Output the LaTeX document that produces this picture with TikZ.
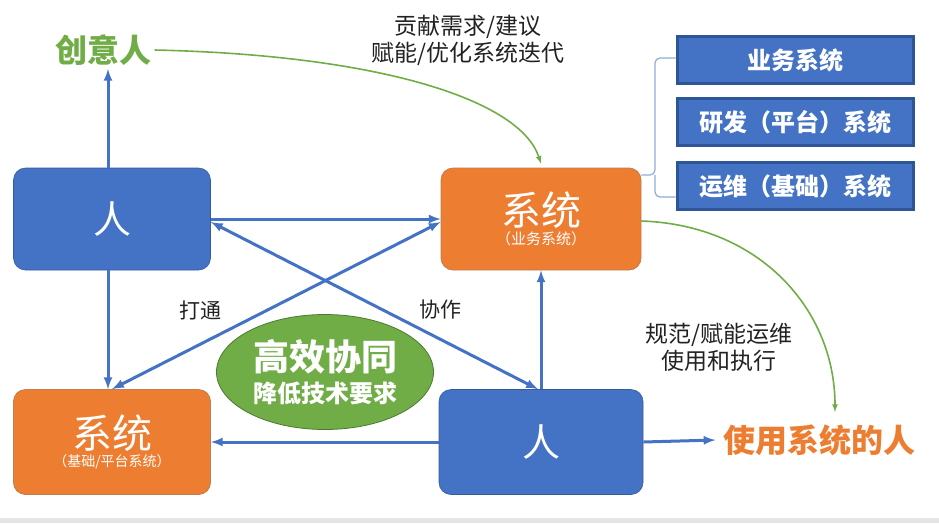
\documentclass[tikz,border=0pt]{standalone}
\usepackage{fontspec}
\setmainfont{Noto Sans CJK SC}
\newfontfamily\cjk{Noto Sans CJK SC}
\usepackage{tikz}
\usetikzlibrary{arrows}
\usetikzlibrary{shapes.geometric}
\definecolor{boxblue}{HTML}{4472C4}
\definecolor{boxorange}{HTML}{ED7D31}
\definecolor{leafgreen}{HTML}{70AD47}
\definecolor{darkblue}{HTML}{2E5597}
\definecolor{lineblue}{HTML}{4472C4}
\definecolor{textgray}{HTML}{222222}
\tikzstyle{person} = [rectangle, rounded corners=12pt, fill=boxblue, draw=boxblue!80!black, line width=0.6pt, minimum width=197pt, minimum height=102pt, text=white, font=\cjk\fontsize{38}{40}\selectfont]
\tikzstyle{system} = [rectangle, rounded corners=12pt, fill=boxorange, draw=boxorange!60!gray, line width=0.8pt, minimum width=200pt, minimum height=102pt, text=white, align=center]
\tikzstyle{kind} = [rectangle, fill=boxblue, draw=darkblue, line width=3pt, minimum width=236pt, minimum height=47pt, text=white, font=\cjk\bfseries\fontsize{24}{26}\selectfont]
\tikzstyle{edge} = [draw, line width=3pt, lineblue]
\tikzstyle{greenedge} = [draw, line width=1.6pt, leafgreen, -latex]
\tikzstyle{caption} = [text=textgray, align=center, font=\cjk\fontsize{23}{27}\selectfont]

\begin{document}
\begin{tikzpicture}[x=1pt, y=-1pt]
    \useasboundingbox (0,0) rectangle (939,523);
    \fill[gray!20] (0,518) rectangle (939,523);

    \node[person] (p1) at (112,219) {人};
    \node[person, minimum width=204pt, minimum height=105pt] (p2) at (541,442) {人};
    \node[system] (top) at (541,219) {{\cjk\fontsize{40}{42}\selectfont 系统}\\[2pt]{\cjk\fontsize{15}{17}\selectfont （业务系统）}};
    \node[system, minimum width=197pt, minimum height=105pt] (base) at (112,442) {{\cjk\fontsize{40}{42}\selectfont 系统}\\[2pt]{\cjk\fontsize{14}{16}\selectfont （基础/平台系统）}};
    \node[ellipse, fill=leafgreen, draw=leafgreen!70!black, line width=0.8pt, minimum width=217pt, minimum height=115pt, text=white, align=center] (core) at (325,372)
        {{\cjk\bfseries\fontsize{36}{38}\selectfont 高效协同}\\[6pt]{\cjk\bfseries\fontsize{24}{26}\selectfont 降低技术要求}};

    \node[text=leafgreen, font=\cjk\bfseries\fontsize{32}{34}\selectfont] (idea) at (103,50) {创意人};
    \node[text=boxorange, font=\cjk\bfseries\fontsize{32}{34}\selectfont] (user) at (819,440) {使用系统的人};

    \node[kind] (k1) at (795,60) {业务系统};
    \node[kind] (k2) at (795,122) {研发（平台）系统};
    \node[kind] (k3) at (795,186) {运维（基础）系统};

    \node[caption] (feed) at (468,40) {贡献需求/建议\\赋能/优化系统迭代};
    \node[caption] (norm) at (719,347) {规范/赋能运维\\使用和执行};
    \node[caption, font=\cjk\fontsize{21}{23}\selectfont] (open) at (200,310) {打通};
    \node[caption, font=\cjk\fontsize{21}{23}\selectfont] (work) at (440,310) {协作};

    \coordinate (fork) at (655,175);
    \draw[lineblue!60, line width=1.2pt, rounded corners=5pt]
        ([yshift=44pt]top.east) -- (fork) |- (k1.west |- 0,58);
    \draw[lineblue!60, line width=1.2pt, rounded corners=5pt]
        (fork) |- (k3.west |- 0,197);

    \draw
    (p1.north -| 108,0) edge[edge, -latex] (idea.south -| 108,0)
    (p1.south -| 108,0) edge[edge, -latex] (base.north -| 108,0)
    (p1.east) edge[edge, -latex] (top.west)
    ([yshift=-3pt]p1.east) edge[edge, latex-latex] ([xshift=-3pt]p2.north)
    (base.north) edge[edge, latex-latex] ([yshift=-3pt]top.west)
    (p2.north) edge[edge, -latex] (top.south)
    (p2.west) edge[edge, -latex] (base.east)
    (p2.east) edge[edge, -latex] ([xshift=-4pt]user.west)
    ;
    \draw[greenedge] (idea.east) .. controls (380,55) and (520,100) .. ([yshift=4pt]top.north);
    \draw[greenedge] ([yshift=-2pt]top.east) .. controls (760,225) and (835,310) .. (835,412);
\end{tikzpicture}
\end{document}
